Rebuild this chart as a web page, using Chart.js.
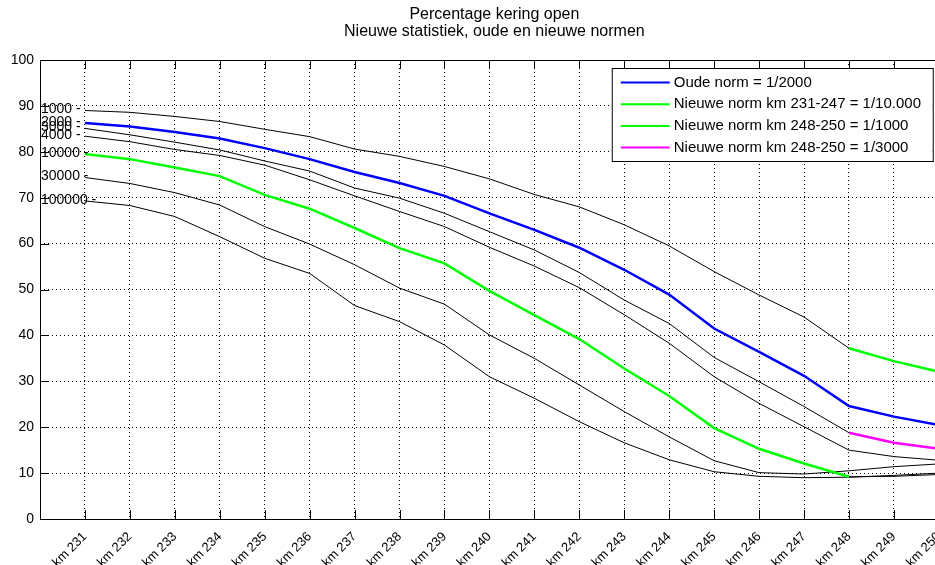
<!DOCTYPE html>
<html>
<head>
<meta charset="utf-8">
<script src="https://cdn.jsdelivr.net/npm/chart.js@4.4.1/dist/chart.umd.min.js"></script>
<style>
  html, body { margin: 0; padding: 0; overflow: hidden; background: #fff; }
  #wrap { width: 960px; height: 565px; }
</style>
</head>
<body>
<div id="wrap"><canvas id="grafiek" width="960" height="565"></canvas></div>
<script>
const titel = ["Percentage kering open", "Nieuwe statistiek, oude en nieuwe normen"];

const km = [231, 232, 233, 234, 235, 236, 237, 238, 239, 240, 241, 242, 243, 244, 245, 246, 247, 248, 249, 250];
const kmLabels = ["km 231", "km 232", "km 233", "km 234", "km 235", "km 236", "km 237", "km 238", "km 239", "km 240",
                  "km 241", "km 242", "km 243", "km 244", "km 245", "km 246", "km 247", "km 248", "km 249", "km 250"];
const yTicks = [0, 10, 20, 30, 40, 50, 60, 70, 80, 90, 100];

// percentage kering open per terugkeertijd (jaar)
const n1000   = [89.0, 88.6, 87.7, 86.6, 84.9, 83.3, 80.6, 79.0, 76.8, 74.1, 70.7, 68.0, 64.1, 59.5, 53.9, 48.8, 44.0, 37.2, 34.4, 32.1];
const n2000   = [86.3, 85.5, 84.3, 82.9, 80.8, 78.4, 75.6, 73.2, 70.4, 66.6, 63.0, 59.1, 54.3, 48.9, 41.5, 36.4, 31.2, 24.6, 22.3, 20.5];
const n3000   = [85.1, 83.7, 82.1, 80.4, 78.0, 75.8, 72.1, 69.9, 66.6, 62.6, 58.6, 53.7, 47.7, 42.6, 35.2, 29.9, 24.5, 18.8, 16.6, 15.3];
const n4000   = [83.4, 82.2, 80.5, 79.2, 77.1, 73.9, 70.4, 67.0, 63.7, 59.2, 55.1, 50.4, 44.5, 38.3, 31.0, 25.2, 20.1, 15.0, 13.6, 12.8];
const n10000  = [79.5, 78.4, 76.6, 74.7, 70.6, 67.6, 63.4, 59.0, 55.7, 49.7, 44.4, 39.2, 32.8, 26.8, 19.8, 15.3, 12.1, 9.2, 9.3, 9.7];
const n30000  = [74.4, 73.1, 71.1, 68.4, 63.7, 59.9, 55.4, 50.3, 46.8, 40.1, 35.0, 29.2, 23.4, 17.9, 12.7, 10.1, 9.8, 10.5, 11.4, 12.0];
const n100000 = [69.3, 68.3, 65.9, 61.5, 56.8, 53.5, 46.5, 43.0, 37.9, 31.0, 26.3, 21.2, 16.6, 12.9, 10.3, 9.3, 9.0, 9.1, 9.5, 10.0];

const lijnLabels = ["1000 -", "2000 -", "3000 -", "4000 -", "10000 -", "30000 -", "100000 -"];
const lijnen = [n1000, n2000, n3000, n4000, n10000, n30000, n100000];

const legendaTekst = ["Oude norm = 1/2000", "Nieuwe norm km 231-247 = 1/10.000",
                      "Nieuwe norm km 248-250 = 1/1000", "Nieuwe norm km 248-250 = 1/3000"];

function punten(reeks, van, tot) {
  const res = [];
  for (let i = van; i <= tot; i++) res.push({ x: km[i], y: reeks[i] });
  return res;
}

const fontNaam = "'Liberation Sans', Arial, Helvetica, sans-serif";

// gekleurde lijnen eerst: Chart.js tekent dataset 0 bovenop
const datasets = [
  { label: legendaTekst[0], data: punten(n2000, 0, 19), borderColor: "#0000ff", borderWidth: 2.5, inLegend: true },
  { label: legendaTekst[1], data: punten(n10000, 0, 17), borderColor: "#00ff00", borderWidth: 2.5, inLegend: true },
  { label: legendaTekst[2], data: punten(n1000, 17, 19), borderColor: "#00ff00", borderWidth: 2.5, inLegend: true },
  { label: legendaTekst[3], data: punten(n3000, 17, 19), borderColor: "#ff00ff", borderWidth: 2.5, inLegend: true }
];
lijnen.forEach((reeks, i) => {
  datasets.push({ label: lijnLabels[i], data: punten(reeks, 0, 19), borderColor: "#000000", borderWidth: 1 });
});

const kaderPlugin = {
  id: "kader",
  afterDatasetsDraw(chart) {
    const ctx = chart.ctx;
    const a = chart.chartArea;
    const xs = chart.scales.x, ys = chart.scales.y;
    ctx.save();
    ctx.strokeStyle = "#000";
    ctx.lineWidth = 1;
    ctx.setLineDash([]);
    ctx.strokeRect(a.left + 0.5, a.top + 0.5, a.right - a.left - 1, a.bottom - a.top);
    const tl = 9;
    ctx.beginPath();
    km.forEach(k => {
      const px = Math.round(xs.getPixelForValue(k)) + 0.5;
      ctx.moveTo(px, a.bottom); ctx.lineTo(px, a.bottom - tl);
      ctx.moveTo(px, a.top); ctx.lineTo(px, a.top + tl);
    });
    yTicks.forEach(v => {
      const py = Math.round(ys.getPixelForValue(v)) + 0.5;
      ctx.moveTo(a.left, py); ctx.lineTo(a.left + tl, py);
      ctx.moveTo(a.right, py); ctx.lineTo(a.right - tl, py);
    });
    ctx.stroke();

    // labels bij het begin van de lijnen
    ctx.fillStyle = "#000";
    ctx.font = "14px " + fontNaam;
    ctx.textAlign = "left";
    ctx.textBaseline = "middle";
    lijnen.forEach((reeks, i) => {
      ctx.fillText(lijnLabels[i], a.left + 1, ys.getPixelForValue(reeks[0]) - 1);
    });

    // legenda
    const lx = a.right - 337, ly = a.top + 8, lw = 321, lh = 93;
    ctx.fillStyle = "#fff";
    ctx.fillRect(lx, ly, lw, lh);
    ctx.strokeRect(lx + 0.5, ly + 0.5, lw, lh);
    ctx.font = "15px " + fontNaam;
    let rij = 0;
    chart.data.datasets.forEach(ds => {
      if (!ds.inLegend) return;
      const ry = ly + 14.5 + rij * 21.7;
      ctx.strokeStyle = ds.borderColor;
      ctx.lineWidth = 2;
      ctx.beginPath();
      ctx.moveTo(lx + 9, ry); ctx.lineTo(lx + 58, ry);
      ctx.stroke();
      ctx.fillStyle = "#000";
      ctx.fillText(ds.label, lx + 62, ry);
      rij++;
    });

    // titel
    ctx.font = "16px " + fontNaam;
    ctx.textAlign = "center";
    const cx = (a.left + a.right) / 2;
    ctx.fillText(titel[0], cx, 14.5);
    ctx.fillText(titel[1], cx, 31.5);
    ctx.restore();
  }
};

new Chart(document.getElementById("grafiek"), {
  type: "line",
  data: { datasets: datasets },
  options: {
    responsive: false,
    animation: false,
    parsing: true,
    layout: { padding: { top: 60, right: 10, left: 0, bottom: 0 } },
    elements: { point: { radius: 0 }, line: { tension: 0 } },
    plugins: { legend: { display: false }, tooltip: { enabled: false }, title: { display: false } },
    scales: {
      x: {
        type: "linear",
        min: 230,
        max: 250.22,
        afterBuildTicks: s => { s.ticks = km.map(v => ({ value: v })); },
        afterFit: s => { s.height = 46; },
        ticks: {
          autoSkip: false,
          minRotation: 45,
          maxRotation: 45,
          padding: 10,
          color: "#000",
          font: { family: fontNaam, size: 13 },
          callback: v => kmLabels[km.indexOf(v)]
        },
        grid: { color: "#000", lineWidth: 1, drawTicks: false },
        border: { display: false, dash: [1, 3] }
      },
      y: {
        min: 0,
        max: 100,
        afterBuildTicks: s => { s.ticks = yTicks.map(v => ({ value: v })); },
        afterFit: s => { s.width = 40; },
        ticks: {
          padding: 6,
          color: "#000",
          font: { family: fontNaam, size: 14 }
        },
        grid: { color: "#000", lineWidth: 1, drawTicks: false },
        border: { display: false, dash: [1, 3] }
      }
    }
  },
  plugins: [kaderPlugin]
});
</script>
</body>
</html>
